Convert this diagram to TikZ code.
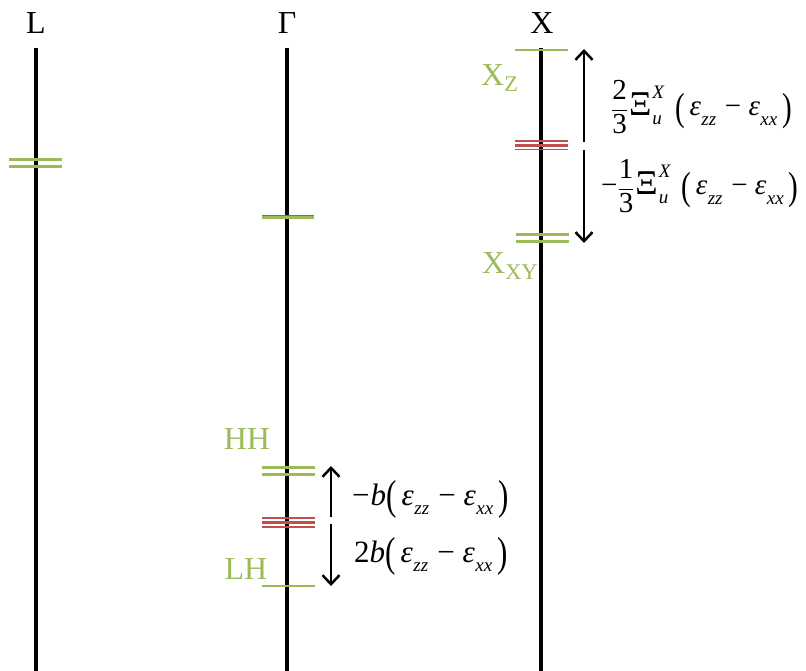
\documentclass[tikz,border=0pt]{standalone}
\usepackage{fontspec}
\setmainfont{Liberation Serif}
\usetikzlibrary{arrows.meta}
\definecolor{lvgreen}{RGB}{155,187,89}
\definecolor{lvred}{RGB}{192,80,77}
\newcommand{\sx}[1]{{\fontsize{19}{20}\selectfont\itshape #1}}
\newcommand{\ep}[1]{\textit{ε}\kern0.5pt\raisebox{-0.32em}{\sx{#1}}}
\newcommand{\bp}[1]{\raisebox{-0.14em}{\scalebox{1}[1.35]{#1}}}
\newcommand{\mn}{\hspace{0.3em}−\hspace{0.25em}}
\newcommand{\xis}{\scalebox{1.2}{Ξ}\kern1pt\rlap{\raisebox{0.62em}{\sx{X}}}\raisebox{-0.3em}{\sx{u}}\hspace{0.45em}}
\newcommand{\frc}[2]{$\displaystyle\frac{\mbox{#1}}{\mbox{#2}}$}
\begin{document}
\begin{tikzpicture}[x=1pt,y=-1pt,
  axis/.style={line width=4pt,black},
  glev/.style={line width=3pt,lvgreen},
  rlev/.style={line width=1.8pt,lvred},
  lbl/.style={font=\fontsize{32}{36}\selectfont,inner sep=0pt},
  glbl/.style={font=\fontsize{32}{36}\selectfont,text=lvgreen,inner sep=0pt},
  eq/.style={font=\fontsize{29}{30}\selectfont,inner sep=0pt,anchor=base west},
  darr/.style={line width=2.5pt,-{Straight Barb[length=9pt,width=17pt,line width=2.5pt]}}]
\useasboundingbox (0,0) rectangle (806,671);
% axes
\node[lbl] (tL) at (36,23) {L};
\node[lbl] (tG) at (287,23) {Γ};
\node[lbl] (tX) at (542,23) {X};
\coordinate (Lt) at (36,48); \coordinate (Lb) at (36,671);
\coordinate (Gt) at (287,48); \coordinate (Gb) at (287,671);
\coordinate (Xt) at (541,48); \coordinate (Xb) at (541,671);
\draw[axis] (Lt) -- (Lb);
\draw[axis] (Gt) -- (Gb);
\draw[axis] (Xt) -- (Xb);
% L levels
\draw[glev] (9,160) -- (62,160);
\draw[glev] (9,167) -- (62,167);
% Gamma mid level
\draw[glev] (262,218) -- (314,218);
\draw[rlev,line width=1.5pt] (262,215.5) -- (314,215.5);
% X levels
\draw[glev,line width=2.5pt] (515,50) -- (568,50);
\draw[rlev,line width=1.4pt] (515,141) -- (568,141);
\draw[rlev,line width=3.2pt] (515,145.3) -- (568,145.3);
\draw[rlev,line width=1.4pt] (515,149.3) -- (568,149.3);
\draw[glev] (516,235) -- (569,235);
\draw[glev] (516,242) -- (569,242);
\node[glbl,anchor=west] (XZ) at (481,78) {X\textsubscript{Z}};
\node[glbl,anchor=west] (XXY) at (482,266) {X\textsubscript{XY}};
% X arrows
\coordinate (xa1) at (584,142); \coordinate (xa2) at (584,49);
\coordinate (xb1) at (584,150); \coordinate (xb2) at (584,243);
\draw[darr] (xa1) -- (xa2);
\draw[darr] (xb1) -- (xb2);
\node[eq] (e1) at (611,116) {\frc{2}{3}\kern1pt\xis\bp{(}\,\ep{zz}\mn\ep{xx}\,\bp{)}};
\node[eq] (e2) at (601,195) {−\frc{1}{3}\kern1pt\xis\bp{(}\,\ep{zz}\mn\ep{xx}\,\bp{)}};
% Gamma lower levels
\node[glbl] (HH) at (247,439) {HH};
\draw[glev] (262,467) -- (315,467);
\draw[glev] (262,474) -- (315,474);
\draw[rlev,line width=1.4pt] (262,518) -- (315,518);
\draw[rlev,line width=2.6pt] (262,522.5) -- (315,522.5);
\draw[rlev,line width=1.4pt] (262,527) -- (315,527);
\node[glbl] (LH) at (246,569) {LH};
\draw[glev,line width=2.5pt] (262,586) -- (315,586);
\coordinate (ga1) at (331,517); \coordinate (ga2) at (331,466);
\coordinate (gb1) at (331,524); \coordinate (gb2) at (331,586);
\draw[darr] (ga1) -- (ga2);
\draw[darr] (gb1) -- (gb2);
\node[eq,font=\fontsize{31}{32}\selectfont] (e3) at (352,505) {−\kern1pt\textit{b}\bp{(}\,\ep{zz}\mn\ep{xx}\,\bp{)}};
\node[eq,font=\fontsize{31}{32}\selectfont] (e4) at (354,562) {2\textit{b}\bp{(}\,\ep{zz}\mn\ep{xx}\,\bp{)}};
\end{tikzpicture}
\end{document}
